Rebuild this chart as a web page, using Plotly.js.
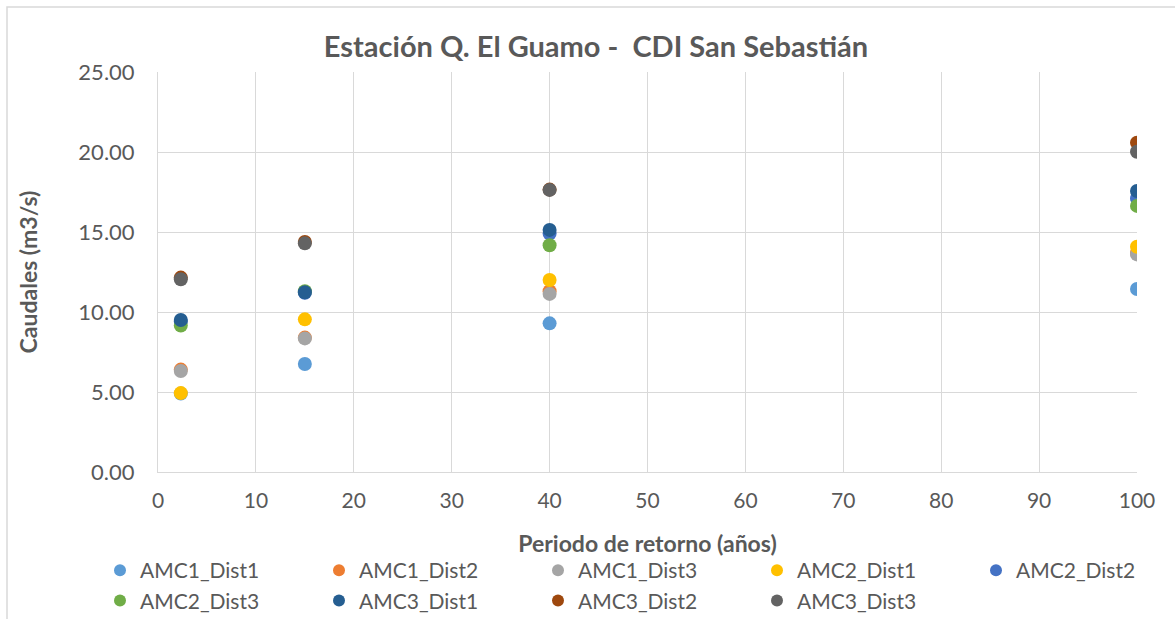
<!DOCTYPE html>
<html>
<head>
<meta charset="utf-8">
<script src="https://cdn.plot.ly/plotly-3.0.1.min.js"></script>
<style>html,body{margin:0;padding:0;background:#fff;}#chart{width:1175px;height:619px;}</style>
</head>
<body>
<div id="chart"></div>
<script>
const periods = [2.33, 15, 40, 100];
const seriesNames = ["AMC1_Dist1","AMC1_Dist2","AMC1_Dist3","AMC2_Dist1","AMC2_Dist2","AMC2_Dist3","AMC3_Dist1","AMC3_Dist2","AMC3_Dist3"];
const AMC1_Dist1 = [4.90, 6.75, 9.29, 11.44];
const AMC1_Dist2 = [6.40, 8.40, 11.30, 13.70];
const AMC1_Dist3 = [6.31, 8.35, 11.13, 13.60];
const AMC2_Dist1 = [4.93, 9.54, 12.00, 14.08];
const AMC2_Dist2 = [9.40, 11.20, 14.90, 17.10];
const AMC2_Dist3 = [9.15, 11.30, 14.17, 16.63];
const AMC3_Dist1 = [9.50, 11.23, 15.13, 17.56];
const AMC3_Dist2 = [12.15, 14.38, 17.65, 20.58];
const AMC3_Dist3 = [12.05, 14.29, 17.63, 20.02];
const seriesValues = [AMC1_Dist1, AMC1_Dist2, AMC1_Dist3, AMC2_Dist1, AMC2_Dist2, AMC2_Dist3, AMC3_Dist1, AMC3_Dist2, AMC3_Dist3];
const colors = ["#5B9BD5","#ED7D31","#A5A5A5","#FFC000","#4472C4","#70AD47","#255E91","#9E480E","#636363"];
const xTicks = [0,10,20,30,40,50,60,70,80,90,100];
const yTicks = [0,5,10,15,20,25];

const traces = seriesNames.map((n,i)=>({
  type:'scatter', mode:'markers', name:n, x:periods, y:seriesValues[i],
  marker:{color:colors[i], size:14}
}));
const font = "Lato, 'Liberation Sans', sans-serif";
const layout = {
  width:1175, height:619,
  margin:{l:158, r:38, t:72, b:147, autoexpand:false},
  paper_bgcolor:'#fff', plot_bgcolor:'#fff',
  font:{family:font, color:'#595959', size:21},
  title:{text:'<b>Estación Q. El Guamo -  CDI San Sebastián</b>', x:596/1175, xanchor:'center', y:(619-47)/619, yanchor:'middle', yref:'container', font:{size:29, color:'#595959', family:font}},
  xaxis:{range:[0,100], tickvals:xTicks, ticktext:xTicks.map(String), showgrid:true, gridcolor:'#d9d9d9', gridwidth:1, zeroline:false,
    showline:true, linecolor:'#d9d9d9', ticks:'', ticklabelstandoff:10, tickfont:{size:21, color:'#595959'},
    title:{text:'<b>Periodo de retorno (años)</b>', font:{size:23, color:'#595959'}, standoff:24}},
  yaxis:{range:[0,25], tickvals:yTicks, ticktext:yTicks.map(v=>v.toFixed(2)), showgrid:true, gridcolor:'#d9d9d9', gridwidth:1, zeroline:false,
    showline:true, linecolor:'#d9d9d9', ticks:'', ticklabelstandoff:18, tickfont:{size:22, color:'#595959'},
    title:{text:'<b>Caudales (m3/s)</b>', font:{size:23, color:'#595959'}, standoff:34}},
  legend:{orientation:'h', x:(100-158)/979, xref:'paper', xanchor:'left', y:-(550-472)/400, yref:'paper', yanchor:'top',
    entrywidth:174, entrywidthmode:'pixels', font:{size:21, color:'#595959'}, itemsizing:'constant', bgcolor:'rgba(0,0,0,0)'},
  shapes:[{type:'rect', xref:'paper', yref:'paper', x0:(7-158)/979, x1:1+100/979, y0:-200/400, y1:1+65/400, line:{color:'#d9d9d9', width:1.5}, fillcolor:'rgba(0,0,0,0)', layer:'below'}],
  showlegend:true
};
Plotly.newPlot('chart', traces, layout, {displayModeBar:false, staticPlot:true});
</script>
</body>
</html>
